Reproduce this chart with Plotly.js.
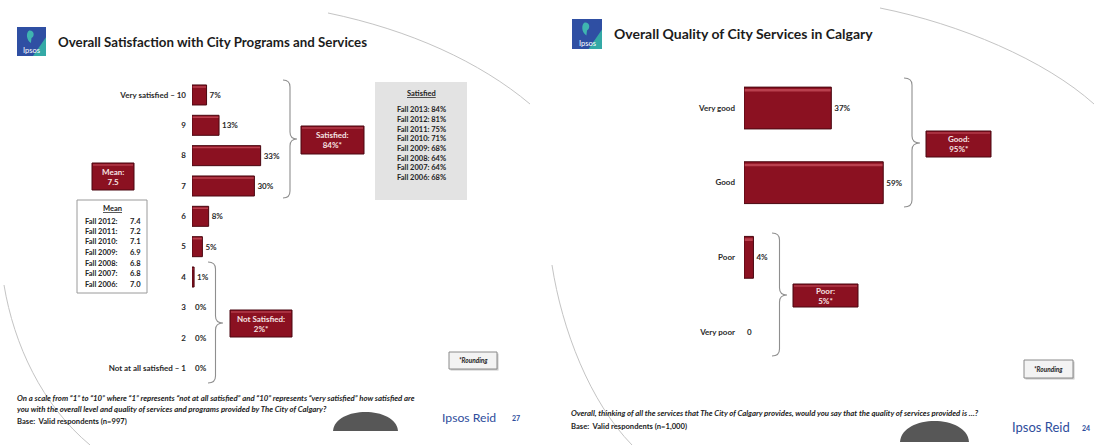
<!DOCTYPE html>
<html><head><meta charset="utf-8">
<script src="https://cdn.plot.ly/plotly-3.0.1.min.js"></script>
<style>html,body{margin:0;padding:0;background:#fff;overflow:hidden}#chart{width:1094px;height:445px}</style>
</head><body><div id="chart"></div>
<script>
// ---------- DATA ----------
const satCategories = ['Very satisfied – 10','9','8','7','6','5','4','3','2','Not at all satisfied – 1'];
const satValues = [7,13,33,30,8,5,1,0,0,0];
const satText = ['7%','13%','33%','30%','8%','5%','1%','0%','0%','0%'];
const qualCategories = ['Very good','Good','Poor','Very poor'];
const qualValues = [37,59,4,0];
const qualText = ['37%','59%','4%','0'];
const meanYears = ['Fall 2012:','Fall 2011:','Fall 2010:','Fall 2009:','Fall 2008:','Fall 2007:','Fall 2006:'];
const meanValues = ['7.4','7.2','7.1','6.9','6.8','6.8','7.0'];
const satHistYears = ['Fall 2013','Fall 2012','Fall 2011','Fall 2010','Fall 2009','Fall 2008','Fall 2007','Fall 2006'];
const satHistValues = [84,81,75,71,68,64,64,68];
const currentMean = '7.5';
const satisfiedTotal = '84%*';
const notSatisfiedTotal = '2%*';
const goodTotal = '95%*';
const poorTotal = '5%*';
const leftTitle = 'Overall Satisfaction with City Programs and Services';
const rightTitle = 'Overall Quality of City Services in Calgary';
const leftQuestion = ['On a scale from “1” to “10” where “1” represents “not at all satisfied” and “10” represents “very satisfied” how satisfied are',
                      'you with the overall level and quality of services and programs provided by The City of Calgary?'];
const leftBase = 'Base:\u00a0 Valid respondents (n=997)';
const rightQuestion = 'Overall, thinking of all the services that The City of Calgary provides, would you say that the quality of services provided is …?';
const rightBase = 'Base:\u00a0 Valid respondents (n=1,000)';
const leftPage = '27', rightPage = '24';

// ---------- HELPERS ----------
const W = 1094, H = 445;
const X = p => p / W;
const Y = p => 1 - p / H;
const FONT = 'Lato, "Open Sans", sans-serif';
const RED = '#8b1121', RED_LINE = '#4a0710', HILITE = '#b9404e';
const shapes = [], annotations = [];

function rect(x0, y0, x1, y1, fill, line, lw) {
  shapes.push({type:'rect', xref:'paper', yref:'paper', x0:X(x0), x1:X(x1), y0:Y(y1), y1:Y(y0),
    fillcolor: fill, line:{color: line || fill, width: lw === undefined ? 1 : lw}, layer:'above'});
}
function path(d, fill, line, lw) {
  shapes.push({type:'path', xref:'paper', yref:'paper', path:d, fillcolor: fill || 'rgba(0,0,0,0)',
    line:{color: line || 'rgba(0,0,0,0)', width: lw || 0}, layer:'above'});
}
function P(x, y) { return X(x).toFixed(5) + ',' + Y(y).toFixed(5); }
function ann(text, x, y, o) {
  o = o || {};
  annotations.push({text, xref:'paper', yref:'paper', x:X(x), y:Y(y), showarrow:false,
    xanchor:o.xa || 'left', yanchor:o.ya || 'middle', align:o.align || 'left',
    font:{family:FONT, size:o.size || 8, color:o.color || '#222', weight:o.weight || 'bold',
          style:o.style || 'normal'}});
}
function brace(x0, w, y0, y1, ym) {
  const xm = x0 + w / 2, r = 7;
  path('M' + P(x0, y0) + ' Q' + P(xm, y0) + ' ' + P(xm, y0 + r) + ' L' + P(xm, ym - r) +
       ' Q' + P(xm, ym) + ' ' + P(x0 + w, ym) + ' Q' + P(xm, ym) + ' ' + P(xm, ym + r) +
       ' L' + P(xm, y1 - r) + ' Q' + P(xm, y1) + ' ' + P(x0, y1), null, '#8f8f8f', 1.1);
}
function redBox(x0, y0, x1, y1, label, value) {
  rect(x0, y0, x1, y1, RED, RED_LINE, 1);
  rect(x0 + 1, y0 + 1, x1 - 1, y0 + 3, '#a8303f', '#a8303f', 0);
  ann(label + '<br>' + value, (x0 + x1) / 2, (y0 + y1) / 2, {xa:'center', align:'center', color:'#f6e4e4', size:8});
}
function roundingBox(x0, y0, x1, y1) {
  rect(x0 + 1.5, y0 + 1.5, x1 + 1.5, y1 + 1.5, '#c8c8c8', '#c8c8c8', 0);
  rect(x0, y0, x1, y1, '#f3f3f3', '#8a8a8a', 1);
  ann('<i>*Rounding</i>', (x0 + x1) / 2, (y0 + y1) / 2, {xa:'center', size:6.5, color:'#222'});
}
function logo(x0, y0, s) {
  rect(x0, y0, x0 + s, y0 + s, '#2f4fa3', '#2f4fa3', 0);
  path('M' + P(x0 + s, y0 + s * 0.35) + ' L' + P(x0 + s, y0 + s) + ' L' + P(x0 + s * 0.55, y0 + s) + ' Z', '#34a9a6');
  path('M' + P(x0 + s * 0.42, y0 + s * 0.12) + ' C' + P(x0 + s * 0.30, y0 + s * 0.20) + ' ' + P(x0 + s * 0.32, y0 + s * 0.45) + ' ' +
       P(x0 + s * 0.48, y0 + s * 0.55) + ' L' + P(x0 + s * 0.50, y0 + s * 0.38) + ' C' + P(x0 + s * 0.62, y0 + s * 0.32) + ' ' +
       P(x0 + s * 0.60, y0 + s * 0.10) + ' ' + P(x0 + s * 0.42, y0 + s * 0.12) + ' Z', '#3fb5b0');
  ann('Ipsos', x0 + s / 2, y0 + s * 0.8, {xa:'center', size:7.5, color:'#ffffff', weight:'normal'});
}
function dome(x0, x1, yTop, yBot) {
  const k = (yBot - yTop) * 1.33;
  path('M' + P(x0, yBot) + ' C' + P(x0 + 2, yBot - k) + ' ' + P(x1 - 2, yBot - k) + ' ' + P(x1, yBot) + ' Z', '#575757');
}

// ---------- DECORATION ----------
path('M' + P(328, 13) + ' C' + P(410, 30) + ' ' + P(480, 62) + ' ' + P(530, 104), null, '#c4c4c4', 1);
path('M' + P(4, 285) + ' C' + P(14, 345) + ' ' + P(42, 405) + ' ' + P(90, 445), null, '#c4c4c4', 1);
path('M' + P(880, 8) + ' C' + P(960, 24) + ' ' + P(1045, 60) + ' ' + P(1094, 104), null, '#c4c4c4', 1);
path('M' + P(552, 265) + ' C' + P(562, 330) + ' ' + P(590, 402) + ' ' + P(632, 445), null, '#c4c4c4', 1);
dome(333, 398, 412, 431);
dome(900, 969, 421, 442);

// ---------- LEFT SLIDE ----------
logo(17, 27, 29);
ann(leftTitle, 56, 42, {size:13.3, color:'#1c1c1c'});
brace(283, 14, 80, 198, 139);
redBox(301, 126, 364, 154, 'Satisfied:', satisfiedTotal);
brace(208, 15, 262, 383, 323);
redBox(230, 310, 292, 337, 'Not Satisfied:', notSatisfiedTotal);
redBox(92, 163, 134, 190, 'Mean:', currentMean);
rect(77, 200, 147, 293, '#ffffff', '#9a9a9a', 1);
ann('<u>Mean</u>', 112, 209, {xa:'center', size:7.5});
meanYears.forEach((yr, i) => {
  ann(yr, 83, 221 + i * 10.5, {size:7.5});
  ann(meanValues[i], 128, 221 + i * 10.5, {size:7.5});
});
rect(375, 82, 467, 200, '#e3e3e3', '#e3e3e3', 0);
ann('<u>Satisfied</u>', 421, 93, {xa:'center', size:7.5});
satHistYears.forEach((yr, i) => {
  ann(yr + ': ' + satHistValues[i] + '%', 421, 110 + i * 9.6, {xa:'center', size:7.5});
});
roundingBox(449, 352, 497, 369);
ann('<i>' + leftQuestion[0] + '</i>', 15, 398, {size:7.8});
ann('<i>' + leftQuestion[1] + '</i>', 15, 409, {size:7.8});
ann(leftBase, 15, 421, {size:7.6});
ann('Ipsos Reid', 440, 417, {size:12.2, color:'#2e4d9c', weight:'normal'});
ann(leftPage, 510, 418, {size:7, color:'#2e4d9c'});

// ---------- RIGHT SLIDE ----------
logo(572, 19, 30);
ann(rightTitle, 612, 34, {size:14, color:'#1c1c1c'});
brace(904, 16, 78, 207, 143);
redBox(926, 131, 991, 157, 'Good:', goodTotal);
brace(772, 15, 233, 356, 295);
redBox(793, 284, 858, 307, 'Poor:', poorTotal);
roundingBox(1024, 360, 1073, 378);
ann('<i>' + rightQuestion + '</i>', 569, 413, {size:7.8});
ann(rightBase, 569, 426, {size:7.6});
ann('Ipsos Reid', 1010, 427, {size:13, color:'#2e4d9c', weight:'normal'});
ann(rightPage, 1080, 428, {size:7, color:'#2e4d9c'});

// ---------- TRACES ----------
const txtFont = {family:FONT, size:8, color:'#2a2a2a', weight:'bold'};
const lineW = vals => vals.map(v => v > 0 ? 1 : 0);
const traces = [
  {type:'bar', orientation:'h', x:satValues, y:satCategories, xaxis:'x', yaxis:'y', width:0.66,
   marker:{color:RED, line:{color:RED_LINE, width:lineW(satValues)}}, text:satText, textposition:'outside',
   textfont:txtFont, cliponaxis:false, hoverinfo:'skip'},
  {type:'bar', orientation:'h', x:satValues.map(v => Math.max(0, v - 0.6)), y:satCategories, xaxis:'x', yaxis:'y',
   width:0.05, offset:-0.29, base:0.3, marker:{color:HILITE, line:{width:0}}, hoverinfo:'skip'},
  {type:'bar', orientation:'h', x:qualValues, y:qualCategories, xaxis:'x2', yaxis:'y2', width:0.56,
   marker:{color:RED, line:{color:RED_LINE, width:lineW(qualValues)}}, text:qualText, textposition:'outside',
   textfont:txtFont, cliponaxis:false, hoverinfo:'skip'},
  {type:'bar', orientation:'h', x:qualValues.map(v => Math.max(0, v - 0.6)), y:qualCategories, xaxis:'x2', yaxis:'y2',
   width:0.035, offset:-0.255, base:0.3, marker:{color:HILITE, line:{width:0}}, hoverinfo:'skip'}
];

const tickFont = {family:FONT, size:8, color:'#2a2a2a', weight:'bold'};
const layout = {
  width:W, height:H, margin:{l:0, r:0, t:0, b:0}, paper_bgcolor:'#ffffff', plot_bgcolor:'rgba(0,0,0,0)',
  showlegend:false, barmode:'overlay',
  xaxis:{domain:[X(192), X(400)], range:[0,100], visible:false, fixedrange:true},
  yaxis:{domain:[Y(383.2), Y(79.8)], anchor:'x', type:'category', categoryorder:'array', categoryarray:satCategories,
         range:[satCategories.length - 0.5, -0.5], showgrid:false, zeroline:false, showline:false, ticks:'',
         ticklabelstandoff:5, tickfont:tickFont, fixedrange:true},
  xaxis2:{domain:[X(744), X(980)], range:[0,100], visible:false, anchor:'y2', fixedrange:true},
  yaxis2:{domain:[Y(369.3), Y(70.7)], anchor:'x2', type:'category', categoryorder:'array', categoryarray:qualCategories,
          range:[qualCategories.length - 0.5, -0.5], showgrid:false, zeroline:false, showline:false, ticks:'',
          ticklabelstandoff:8, tickfont:tickFont, fixedrange:true},
  shapes, annotations
};
Plotly.newPlot('chart', traces, layout, {displayModeBar:false, staticPlot:true});
</script>
</body></html>
